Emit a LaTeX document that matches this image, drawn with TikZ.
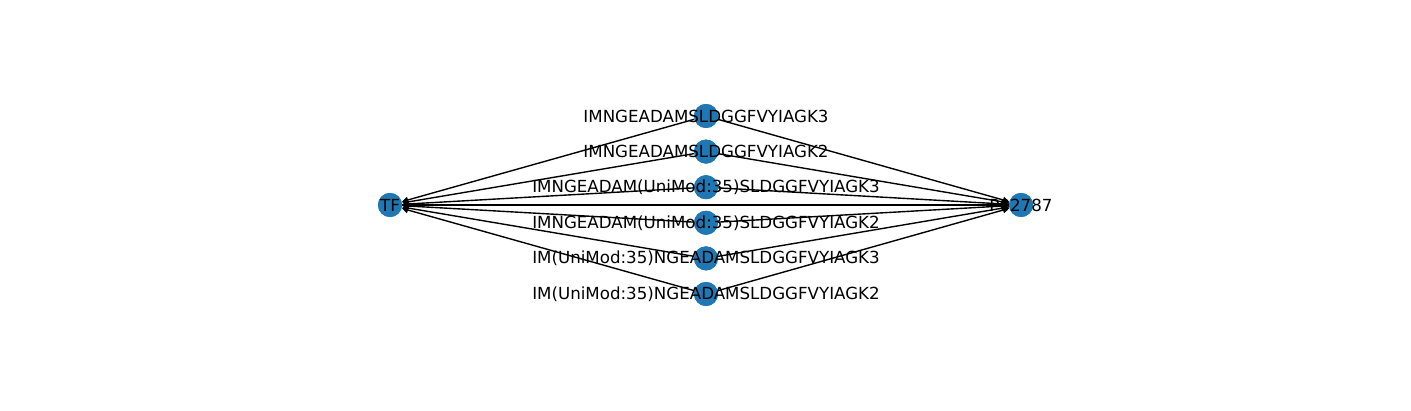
\documentclass[tikz,border=0pt]{standalone}
\usepackage{fontspec}
\setmainfont{DejaVu Sans}
\usetikzlibrary{arrows.meta}
\definecolor{nodeblue}{HTML}{1F78B4}
\tikzset{
  vert/.style={circle,fill=nodeblue,draw=none,minimum size=17.3pt,inner sep=0pt},
  lab/.style={font=\fontsize{12pt}{14pt}\selectfont,inner sep=0pt,anchor=center,text=black},
  edge/.style={draw=black,line width=1pt,-{Triangle[length=4.5pt,width=4.5pt]},shorten >=0pt}
}
\begin{document}
\begin{tikzpicture}[x=0.72pt,y=-0.72pt]
\useasboundingbox (0,0) rectangle (1411,411);
% nodes
\node[vert] (tf) at (390,205) {};
\node[vert] (p) at (1021,205) {};
\node[vert] (a) at (706,116) {};
\node[vert] (b) at (706,151.6) {};
\node[vert] (c) at (706,187.2) {};
\node[vert] (d) at (706,222.8) {};
\node[vert] (e) at (706,258.4) {};
\node[vert] (f) at (706,294) {};
% edges
\begin{scope}[on background layer/.style={}]
\foreach \n in {a,b,c,d,e,f}{
  \draw[edge] (\n) -- (tf);
  \draw[edge] (\n) -- (p);
}
\draw[edge] (tf) -- (p);
\draw[edge] (p) -- (tf);
\end{scope}
% redraw nodes over edges
\foreach \n/\y in {a/116,b/151.6,c/187.2,d/222.8,e/258.4,f/294}{
  \fill[nodeblue] (706,\y) circle (8.65pt);
}
\fill[nodeblue] (390,205) circle (8.65pt);
\fill[nodeblue] (1021,205) circle (8.65pt);
% labels
\node[lab] (ltf) at (tf) {TF};
\node[lab] (lp) at (p) {P02787};
\node[lab] (la) at (a) {IMNGEADAMSLDGGFVYIAGK3};
\node[lab] (lb) at (b) {IMNGEADAMSLDGGFVYIAGK2};
\node[lab] (lc) at (c) {IMNGEADAM(UniMod:35)SLDGGFVYIAGK3};
\node[lab] (ld) at (d) {IMNGEADAM(UniMod:35)SLDGGFVYIAGK2};
\node[lab] (le) at (e) {IM(UniMod:35)NGEADAMSLDGGFVYIAGK3};
\node[lab] (lf) at (f) {IM(UniMod:35)NGEADAMSLDGGFVYIAGK2};
\end{tikzpicture}
\end{document}
